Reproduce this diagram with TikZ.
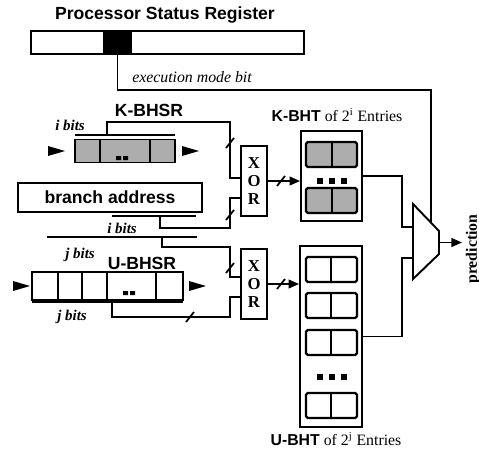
\documentclass[tikz,border=0pt]{standalone}
\usepackage{fontspec}
\setmainfont{Liberation Serif}
\setsansfont{Liberation Sans}
\usetikzlibrary{arrows.meta, calc}

\begin{document}
\begin{tikzpicture}[x=0.02cm, y=-0.02cm,
    head/.style={font=\sffamily\bfseries\fontsize{10}{12}\selectfont},
    bitlab/.style={font=\bfseries\itshape\fontsize{8.5}{10}\selectfont},
    lab/.style={font=\itshape\fontsize{9}{11}\selectfont},
    tbl/.style={font=\fontsize{9}{11}\selectfont},
    xorbox/.style={draw, line width=1.1pt, inner sep=0pt, align=center,
                   minimum width=0.52cm, minimum height=1.4cm,
                   font=\bfseries\fontsize{9.5}{10.5}\selectfont},
    box/.style={draw, line width=1.1pt, inner sep=0pt},
    cellbox/.style={draw, line width=1.3pt, rounded corners=1pt},
    shade/.style={fill=black!32},
    wire/.style={line width=1pt},
    arr/.style={-{Triangle[length=6pt, width=5pt]}, line width=1pt},
    busmark/.pic={\draw[line width=1pt] (-4,5) -- (4,-5);},
    feed/.pic={\fill (0,-5) -- (17,0) -- (0,5) -- cycle;},
]
\useasboundingbox (0,0) rectangle (479,450);

% status register
\node[head] (psrtitle) at (165,15) {Processor Status Register};
\node[box, minimum width=5.46cm, minimum height=0.46cm] (psr) at (167.5,42.5) {};
\node[box, fill=black, minimum width=0.54cm, minimum height=0.46cm] (modebit) at (117.5,42.5) {};
\node[lab] (modelab) at (192,77) {execution mode bit};

% K-BHSR
\node[head] (klab) at (149,110) {K-BHSR};
\node[bitlab] (kbits) at (70,125) {i bits};
\node[box, shade, minimum width=2cm, minimum height=0.46cm] (kbhsr) at (125,151) {};
\draw[line width=1.1pt] (100,140) -- (100,162) (150,140) -- (150,162);
\fill (116,156) rectangle +(5,4) (123,156) rectangle +(5,4);
\draw[wire] (75,135) -- (175,135);
\coordinate (kbar) at (107,135);
\pic at (48,151) {feed};
\pic at (182,151) {feed};

% branch address
\node[box, head, minimum width=3.68cm, minimum height=0.58cm] (addr) at (110,197.5) {branch address};
\draw[wire] (112,216) -- (196,216);
\draw[wire] (47,237) -- (197,237);
\coordinate (ibar) at (160,216);
\coordinate (jbar) at (162,237);
\node[bitlab] (ibits) at (122,228) {i bits};

% U-BHSR
\node[head] (ulab) at (142,263) {U-BHSR};
\node[bitlab] (jbitsa) at (80,255) {j bits};
\node[box, minimum width=3.02cm, minimum height=0.56cm] (ubhsr) at (107.5,286) {};
\foreach \x in {58,82,107,156}
    \draw[line width=1.1pt] (\x,272) -- (\x,300);
\fill (123,291) rectangle +(5,4) (130,291) rectangle +(5,4);
\draw[wire] (32,302) -- (183,302);
\coordinate (ubar) at (112,302);
\node[bitlab] (jbitsb) at (72,317) {j bits};
\pic at (13,286) {feed};
\pic at (189,286) {feed};

% XOR gates
\node[xorbox] (xork) at (254,181) {X\\O\\R};
\node[xorbox] (xoru) at (254,284) {X\\O\\R};

% K-BHT
\node[tbl] (kbhtlab) at (337,115) {\textsf{\textbf{K-BHT}} of 2\textsuperscript{i} Entries};
\node[box, minimum width=1.22cm, minimum height=1.8cm] (kbht) at (331.5,176) {};
\foreach \y in {142,188}{
    \draw[cellbox, shade] (306,\y) rectangle (357,\y+25);
    \draw[line width=1.1pt] (332,\y) -- (332,\y+25);
}
\foreach \x in {317,329,341}
    \fill (\x,178) rectangle +(6,6);

% U-BHT
\node[tbl] (ubhtlab) at (336,439) {\textsf{\textbf{U-BHT}} of 2\textsuperscript{j} Entries};
\node[box, minimum width=1.24cm, minimum height=3.62cm] (ubht) at (331,336.5) {};
\foreach \y in {257,293,330,393}{
    \draw[cellbox] (306,\y) rectangle (357,\y+25);
    \draw[line width=1.1pt] (331,\y) -- (331,\y+25);
}
\foreach \x in {317,329,341}
    \fill (\x,374) rectangle +(6,6);

% selector
\coordinate (ma) at (413,204);
\coordinate (mb) at (439,231);
\coordinate (mc) at (439,254);
\coordinate (md) at (413,279);
\draw[box, line join=miter] (ma) -- (mb) -- (mc) -- (md) -- cycle;
\coordinate (muxk) at (413,227);
\coordinate (muxu) at (413,258);
\coordinate (muxtop) at ($(ma)!0.69!(mb)$);
\coordinate (muxout) at ($(mb)!0.5!(mc)$);
\node[font=\bfseries\fontsize{9}{11}\selectfont, rotate=90] (predlab) at (473,249) {prediction};

% wires
\draw[wire] (modebit.south) -- ++(0,35) -| (muxtop);
\draw[wire] (kbar) |- (230,122) |- ($(xork.west)+(0,-3)$);
\pic at (230,143) {busmark};
\draw[wire] (ibar) |- (230,228) |- ($(xork.west)+(0,17)$);
\pic at (230,215) {busmark};
\draw[wire] (jbar) |- (230,247) |- ($(xoru.west)+(0,-7)$);
\pic at (230,268) {busmark};
\draw[wire] (ubar) |- (230,317) |- ($(xoru.west)+(0,13)$);
\pic at (190,317) {busmark};

\draw[arr] (xork.east) -- (xork.east -| kbht.west);
\pic at (281,181) {busmark};
\draw[arr] (xoru.east) -- (xoru.east -| ubht.west);
\pic at (281,284) {busmark};

\draw[wire] (kbht.east) -| ($(muxk)+(-11,0)$) -- (muxk);
\draw[wire] (ubht.east) -| ($(muxu)+(-11,0)$) -- (muxu);
\draw[arr] (muxout) -- ++(23,0);
\end{tikzpicture}
\end{document}
